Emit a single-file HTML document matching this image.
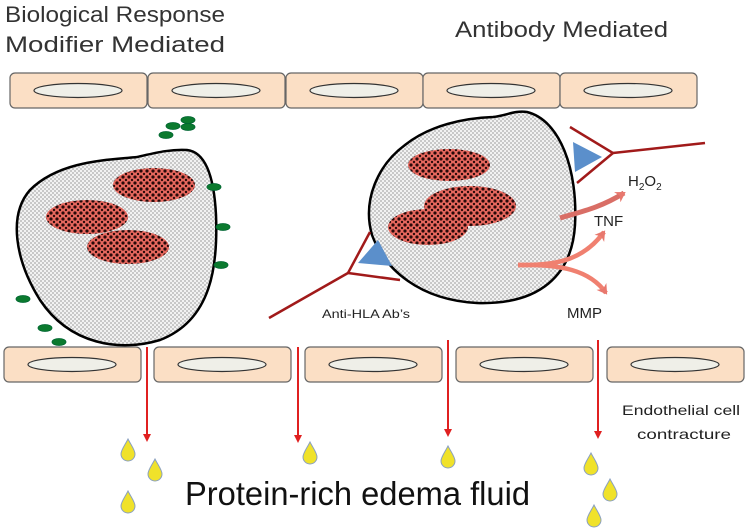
<!DOCTYPE html>
<html><head><meta charset="utf-8"><style>
html,body{margin:0;padding:0;background:#fff;}
svg{display:block;font-family:"Liberation Sans",sans-serif;}
</style></head><body>
<svg width="751" height="530" viewBox="0 0 751 530" xmlns="http://www.w3.org/2000/svg">
<defs>
<pattern id="chk" width="4" height="4" patternUnits="userSpaceOnUse">
<rect width="4" height="4" fill="#f2f2f2"/><rect width="2" height="2" fill="#c8c8c8"/><rect x="2" y="2" width="2" height="2" fill="#c8c8c8"/>
</pattern>
<pattern id="nuc" width="6" height="6" patternUnits="userSpaceOnUse">
<rect width="6" height="6" fill="#e8685e"/><circle cx="3" cy="3" r="1.6" fill="#2a0a0a"/><circle cx="0" cy="0" r="1.2" fill="#2a0a0a"/><circle cx="6" cy="6" r="1.2" fill="#2a0a0a"/><circle cx="6" cy="0" r="1.2" fill="#2a0a0a"/><circle cx="0" cy="6" r="1.2" fill="#2a0a0a"/>
</pattern>
<g id="cell"><rect x="0" y="0" width="137" height="35" rx="5" fill="#fbdfc5" stroke="#666" stroke-width="1.2"/><ellipse cx="68" cy="17.5" rx="44" ry="7" fill="#efefe8" stroke="#333" stroke-width="1.2"/></g>
<g id="drop"><path d="M0,-11 C3,-5 7,0 7,4 A7,7 0 0 1 -7,4 C-7,0 -3,-5 0,-11Z" fill="#f0e22a" stroke="#8aa0c0" stroke-width="1"/></g>
<marker id="ar" markerWidth="8" markerHeight="8" refX="6" refY="4" orient="auto" markerUnits="userSpaceOnUse"><path d="M0,0 L8,4 L0,8 Z" fill="#e02020"/></marker>
<marker id="pa" markerWidth="12" markerHeight="12" refX="8" refY="6" orient="auto" markerUnits="userSpaceOnUse"><path d="M0,0 L10,6 L0,12 L3,6Z" fill="#e8786e"/></marker>
</defs>

<text x="5" y="22" font-size="22" fill="#333" textLength="220" lengthAdjust="spacingAndGlyphs">Biological Response</text>
<text x="5" y="52" font-size="22" fill="#333" textLength="220" lengthAdjust="spacingAndGlyphs">Modifier Mediated</text>
<text x="455" y="37" font-size="22" fill="#333" textLength="213" lengthAdjust="spacingAndGlyphs">Antibody Mediated</text>

<use href="#cell" x="10" y="73"/><use href="#cell" x="148" y="73"/><use href="#cell" x="286" y="73"/><use href="#cell" x="423" y="73"/><use href="#cell" x="560" y="73"/>

<!-- left cell -->
<path d="M187,150 C205,152 214,175 216,215 C218,265 212,320 160,340 C120,352 70,345 40,300 C15,260 8,215 30,190 C60,160 110,160 137,157 C155,153 170,149 187,150Z" fill="url(#chk)" stroke="#000" stroke-width="2.5"/>
<ellipse cx="154" cy="185" rx="41" ry="17" fill="url(#nuc)"/>
<ellipse cx="87" cy="217" rx="41" ry="17" fill="url(#nuc)"/>
<ellipse cx="128" cy="247" rx="41" ry="17" fill="url(#nuc)"/>
<g fill="#0b7a2e" stroke="#063" stroke-width="0.8">
<ellipse cx="173" cy="126" rx="7" ry="3.5"/><ellipse cx="188" cy="120" rx="7" ry="3.5"/><ellipse cx="188" cy="127" rx="7" ry="3.5"/><ellipse cx="166" cy="135" rx="7" ry="3.5"/>
<ellipse cx="214" cy="187" rx="7" ry="3.5"/><ellipse cx="223" cy="227" rx="7" ry="3.5"/><ellipse cx="221" cy="265" rx="7" ry="3.5"/>
<ellipse cx="23" cy="299" rx="7" ry="3.5"/><ellipse cx="45" cy="328" rx="7" ry="3.5"/><ellipse cx="59" cy="342" rx="7" ry="3.5"/>
</g>

<!-- right cell -->
<path d="M527,112 C560,120 578,170 575,225 C572,275 540,305 477,303 C420,300 385,270 372,235 C362,200 378,165 405,145 C430,125 465,118 493,117 C505,116 515,110 527,112Z" fill="url(#chk)" stroke="#000" stroke-width="2.5"/>
<ellipse cx="449" cy="165" rx="41" ry="16" fill="url(#nuc)"/>
<ellipse cx="428" cy="227" rx="40" ry="18" fill="url(#nuc)"/>
<ellipse cx="470" cy="206" rx="46" ry="20" fill="url(#nuc)"/>

<!-- antibodies -->
<polygon points="573,142 602,157 575,172" fill="#5b8fcb"/>
<polyline points="570,127 613,153 577,183" fill="none" stroke="#a11a1a" stroke-width="2.5"/>
<line x1="613" y1="153" x2="705" y2="143" stroke="#a11a1a" stroke-width="2.5"/>
<polygon points="358,263 378,240 392,266" fill="#5b8fcb"/>
<polyline points="370,232 348,273 400,280" fill="none" stroke="#a11a1a" stroke-width="2.5"/>
<line x1="348" y1="273" x2="269" y2="318" stroke="#a11a1a" stroke-width="2.5"/>
<text x="322" y="318" font-size="12" fill="#222" textLength="88" lengthAdjust="spacingAndGlyphs">Anti-HLA Ab’s</text>

<!-- mediator arrows -->
<path d="M560,218 C580,212 600,208 624,193" fill="none" stroke="#d96e66" stroke-width="5" marker-end="url(#pa)"/>
<path d="M518,265 C560,266 585,258 604,232" fill="none" stroke="#f08070" stroke-width="4.5" marker-end="url(#pa)"/>
<path d="M518,265 C560,264 590,270 606,293" fill="none" stroke="#f08070" stroke-width="4.5" marker-end="url(#pa)"/>
<text x="628" y="186" font-size="15" fill="#222">H<tspan font-size="10" dy="4">2</tspan><tspan dy="-4">O</tspan><tspan font-size="10" dy="4">2</tspan></text>
<text x="594" y="226" font-size="15" fill="#222">TNF</text>
<text x="567" y="318" font-size="15" fill="#222">MMP</text>

<!-- bottom cells -->
<use href="#cell" x="4" y="347"/><use href="#cell" x="154" y="347"/><use href="#cell" x="305" y="347"/><use href="#cell" x="456" y="347"/><use href="#cell" x="607" y="347"/>

<g stroke="#e02020" stroke-width="2">
<line x1="147" y1="347" x2="147" y2="440" marker-end="url(#ar)"/>
<line x1="298" y1="347" x2="298" y2="441" marker-end="url(#ar)"/>
<line x1="448" y1="340" x2="448" y2="435" marker-end="url(#ar)"/>
<line x1="598" y1="340" x2="598" y2="437" marker-end="url(#ar)"/>
</g>

<use href="#drop" x="128" y="450"/><use href="#drop" x="155" y="470"/><use href="#drop" x="128" y="502"/>
<use href="#drop" x="310" y="453"/><use href="#drop" x="448" y="457"/>
<use href="#drop" x="591" y="464"/><use href="#drop" x="610" y="490"/><use href="#drop" x="594" y="516"/>

<text x="622" y="415" font-size="14" fill="#222" textLength="118" lengthAdjust="spacingAndGlyphs">Endothelial cell</text>
<text x="637" y="439" font-size="14" fill="#222" textLength="94" lengthAdjust="spacingAndGlyphs">contracture</text>
<text x="185" y="505" font-size="33" fill="#111" textLength="345" lengthAdjust="spacingAndGlyphs">Protein-rich edema fluid</text>
</svg>
</body></html>
